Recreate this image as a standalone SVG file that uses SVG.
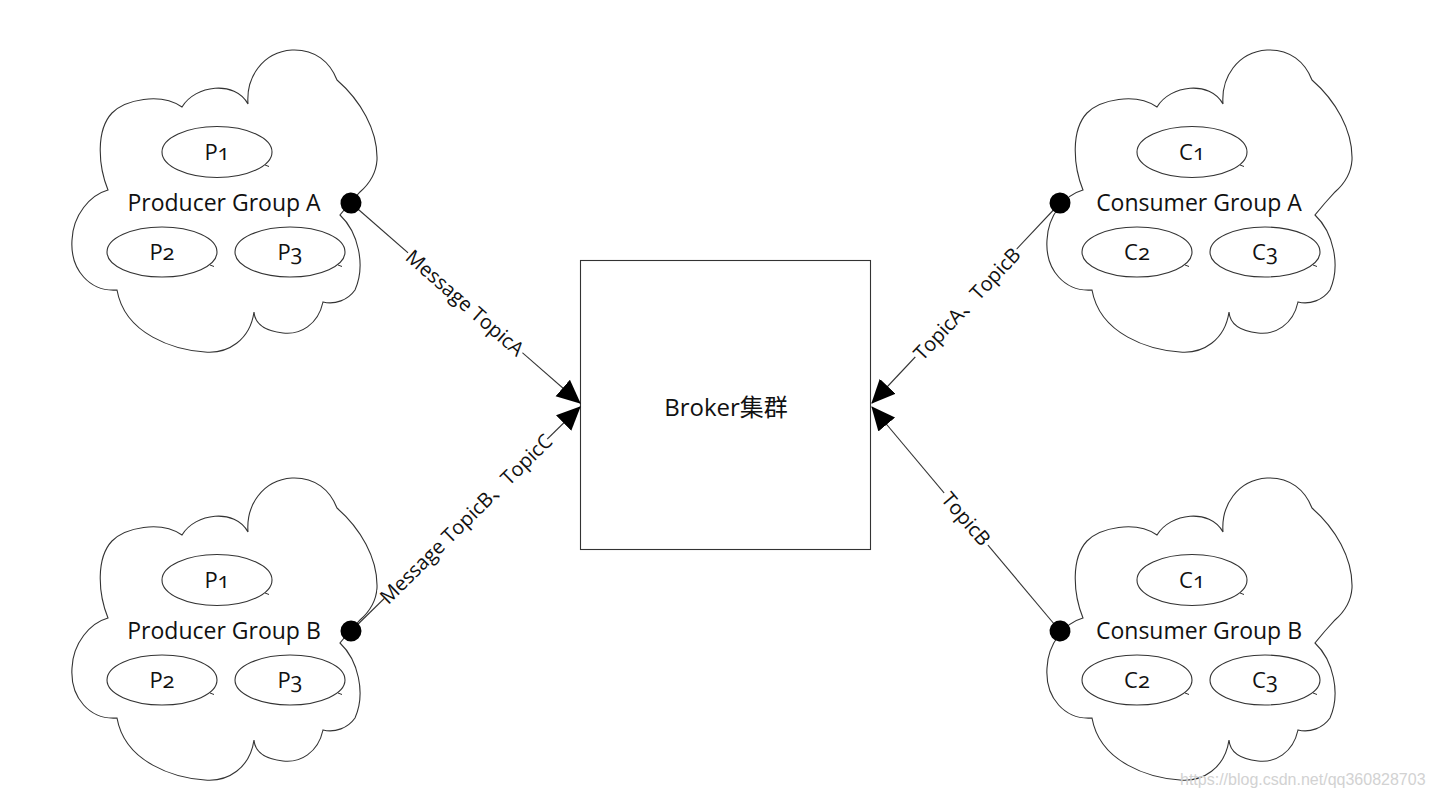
<svg xmlns="http://www.w3.org/2000/svg" xmlns:xlink="http://www.w3.org/1999/xlink" width="1433" height="798" viewBox="0 0 1433 798">
  <style>
    .cloud { fill: #ffffff; stroke: #333333; stroke-width: 1.1; }
    .ell { fill: #ffffff; stroke: #333333; stroke-width: 1.1; }
    .tick { fill: none; stroke: #333333; stroke-width: 1; }
    .lbl { font-family: "Open Sans", "Noto Sans CJK SC", sans-serif; font-size: 22px; fill: #111111; text-anchor: middle; font-variant-numeric: oldstyle-nums; }
    .grp { font-family: "Open Sans", "Noto Sans CJK SC", sans-serif; font-size: 23px; fill: #111111; text-anchor: middle; }
    .conn { fill: none; stroke: #333333; stroke-width: 1.1; marker-start: url(#dot); marker-end: url(#arrow); }
    .clbl { font-family: "Open Sans", "Noto Sans CJK SC", sans-serif; font-size: 20px; fill: #111111; text-anchor: middle; }
    .bg { fill: #ffffff; }
    .box { fill: #ffffff; stroke: #333333; stroke-width: 1.1; }
    .wm { font-family: "Liberation Sans", Arial, sans-serif; font-size: 16px; fill: #d2d2d2; }
  </style>
  <defs>
    <path id="cloudShape" d="M108,190 C98,165 96,130 112,113 C125,100 160,92 182,107 C195,85 235,80 248,104 C246,78 262,52 292,50 C315,49 330,62 337,80 C360,100 378,130 377,160 C376,175 368,185 360,192 L350,203 L340,215 C358,232 366,265 355,290 C348,300 335,305 323,302 C318,325 300,335 283,333 C265,331 255,325 254,312 C250,340 228,354 205,352 C175,350 125,335 117,290 C90,292 70,270 72,240 C73,215 90,195 108,190 Z"/>
    <marker id="arrow" markerUnits="userSpaceOnUse" markerWidth="24" markerHeight="24" viewBox="0 0 22 22" refX="21" refY="11" orient="auto">
      <path d="M0,1 L22,11 L0,21 Z" fill="#000000"/>
    </marker>
    <marker id="dot" markerUnits="userSpaceOnUse" markerWidth="24" markerHeight="24" viewBox="0 0 24 24" refX="12" refY="12" orient="auto">
      <circle cx="12" cy="12" r="10.5" fill="#000000"/>
    </marker>
  </defs>
  <rect width="1433" height="798" fill="#ffffff"/>

  <g id="broker">
    <rect class="box" x="580.5" y="260.5" width="290" height="289"/>
    <text class="grp" x="726" y="416" style="font-size:24px">Broker集群</text>
  </g>

  <g id="producer-group-a">
    <use xlink:href="#cloudShape" class="cloud"/>
    <g id="pa-p1"><ellipse class="ell" cx="217" cy="152" rx="55" ry="25.5"/><path class="tick" d="M265,165 l4,1.5"/><text class="lbl" x="217" y="160">P1</text></g>
    <g id="pa-p2"><ellipse class="ell" cx="162" cy="252" rx="55" ry="25"/><path class="tick" d="M210,265 l4,1.5"/><text class="lbl" x="162" y="260">P2</text></g>
    <g id="pa-p3"><ellipse class="ell" cx="290" cy="252" rx="55" ry="25"/><path class="tick" d="M338,265 l4,1.5"/><text class="lbl" x="290" y="260">P3</text></g>
    <text class="grp" x="224" y="211">Producer Group A</text>
  </g>

  <g id="producer-group-b" transform="translate(0,428)">
    <use xlink:href="#cloudShape" class="cloud"/>
    <g id="pb-p1"><ellipse class="ell" cx="217" cy="152" rx="55" ry="25.5"/><path class="tick" d="M265,165 l4,1.5"/><text class="lbl" x="217" y="160">P1</text></g>
    <g id="pb-p2"><ellipse class="ell" cx="162" cy="252" rx="55" ry="25"/><path class="tick" d="M210,265 l4,1.5"/><text class="lbl" x="162" y="260">P2</text></g>
    <g id="pb-p3"><ellipse class="ell" cx="290" cy="252" rx="55" ry="25"/><path class="tick" d="M338,265 l4,1.5"/><text class="lbl" x="290" y="260">P3</text></g>
    <text class="grp" x="224" y="211">Producer Group B</text>
  </g>

  <g id="consumer-group-a" transform="translate(975,0)">
    <use xlink:href="#cloudShape" class="cloud"/>
    <g id="ca-c1"><ellipse class="ell" cx="217" cy="152" rx="55" ry="25.5"/><path class="tick" d="M265,165 l4,1.5"/><text class="lbl" x="217" y="160">C1</text></g>
    <g id="ca-c2"><ellipse class="ell" cx="162" cy="252" rx="55" ry="25"/><path class="tick" d="M210,265 l4,1.5"/><text class="lbl" x="162" y="260">C2</text></g>
    <g id="ca-c3"><ellipse class="ell" cx="290" cy="252" rx="55" ry="25"/><path class="tick" d="M338,265 l4,1.5"/><text class="lbl" x="290" y="260">C3</text></g>
    <text class="grp" x="224" y="211">Consumer Group A</text>
  </g>

  <g id="consumer-group-b" transform="translate(975,428)">
    <use xlink:href="#cloudShape" class="cloud"/>
    <g id="cb-c1"><ellipse class="ell" cx="217" cy="152" rx="55" ry="25.5"/><path class="tick" d="M265,165 l4,1.5"/><text class="lbl" x="217" y="160">C1</text></g>
    <g id="cb-c2"><ellipse class="ell" cx="162" cy="252" rx="55" ry="25"/><path class="tick" d="M210,265 l4,1.5"/><text class="lbl" x="162" y="260">C2</text></g>
    <g id="cb-c3"><ellipse class="ell" cx="290" cy="252" rx="55" ry="25"/><path class="tick" d="M338,265 l4,1.5"/><text class="lbl" x="290" y="260">C3</text></g>
    <text class="grp" x="224" y="211">Consumer Group B</text>
  </g>

  <g id="connectors">
    <path class="conn" d="M351,203 L580,403"/>
    <path class="conn" d="M351,631 L580,407"/>
    <path class="conn" d="M1060,203 L872,403"/>
    <path class="conn" d="M1060,631 L872,407"/>
    <g transform="translate(465,303) rotate(41.2)">
      <rect class="bg" x="-76" y="-11" width="152" height="22"/>
      <text class="clbl" x="0" y="7">Message TopicA</text>
    </g>
    <g transform="translate(466,519) rotate(-44.5)">
      <rect class="bg" x="-114" y="-11" width="228" height="22"/>
      <text class="clbl" x="0" y="7">Message TopicB、TopicC</text>
    </g>
    <g transform="translate(967,304) rotate(-46.9)">
      <rect class="bg" x="-74" y="-11" width="148" height="22"/>
      <text class="clbl" x="0" y="7">TopicA、TopicB</text>
    </g>
    <g transform="translate(966,519) rotate(49.5)">
      <rect class="bg" x="-34" y="-11" width="68" height="22"/>
      <text class="clbl" x="0" y="7">TopicB</text>
    </g>
  </g>

  <text class="wm" x="1180" y="785">https://blog.csdn.net/qq360828703</text>
</svg>
